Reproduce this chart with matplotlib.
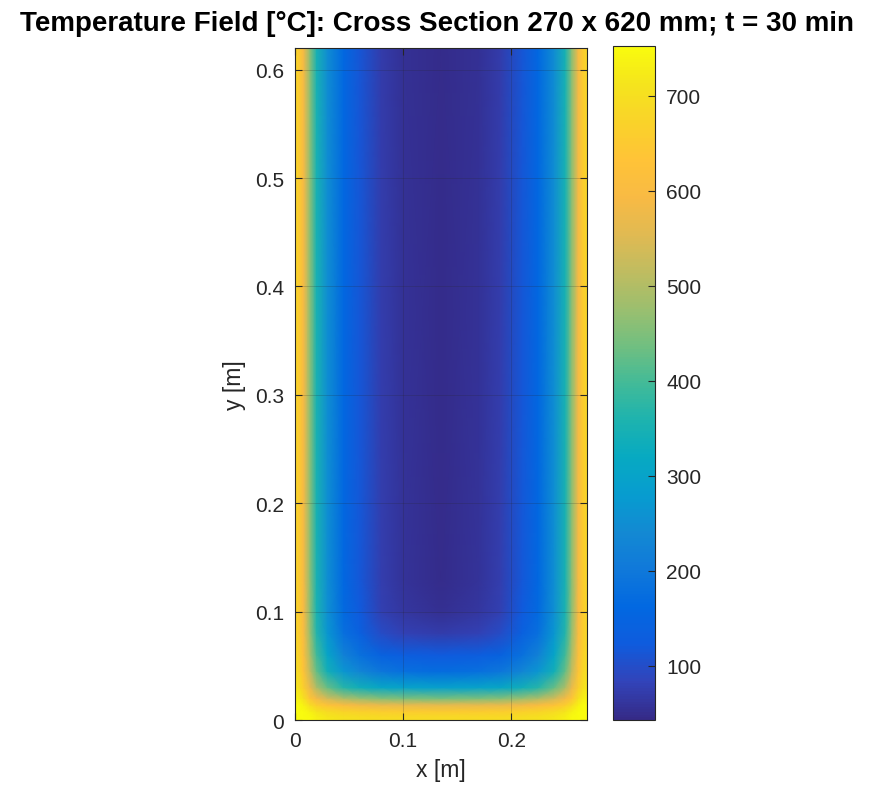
import matplotlib
matplotlib.use("Agg")
import matplotlib.pyplot as plt
import numpy as np
from matplotlib import font_manager
from matplotlib.colors import LinearSegmentedColormap

plt.rcParams['font.family'] = ['Liberation Sans', 'DejaVu Sans']

# Siatka węzłów (lewa połowa przekroju, prawa jest symetryczna) [m]
x_pol = [0, 0.004, 0.008, 0.014, 0.02, 0.03, 0.045, 0.06, 0.08, 0.1, 0.135]
y_wez = [0, 0.004, 0.008, 0.014, 0.02, 0.03, 0.045, 0.06, 0.08, 0.1, 0.13, 0.62]

# Temperatury [°C], wiersze = y_wez, kolumny = x_pol
temp_pol = [
    [783, 778, 770, 751, 735, 720, 707, 701, 694, 692, 691],
    [781, 776, 767, 746, 729, 713, 699, 691, 685, 682, 680],
    [776, 770, 758, 733, 711, 691, 673, 664, 656, 653, 651],
    [762, 752, 733, 692, 657, 626, 597, 583, 569, 564, 561],
    [743, 729, 700, 638, 586, 538, 496, 474, 454, 446, 441],
    [719, 699, 659, 571, 497, 429, 369, 339, 310, 299, 292],
    [700, 675, 625, 517, 426, 342, 267, 230, 194, 181, 173],
    [692, 665, 611, 494, 395, 305, 223, 183, 144, 130, 121],
    [684, 655, 597, 471, 365, 268, 181, 138, 96, 80, 71],
    [681, 651, 592, 463, 354, 255, 166, 121, 79, 63, 53],
    [680, 650, 591, 461, 351, 252, 162, 117, 74, 58, 48],
    [680, 650, 590, 460, 350, 250, 160, 115, 72, 56, 46],
]

cb_ticks = [100, 200, 300, 400, 500, 600, 700]
x_ticks = [0, 0.1, 0.2]
y_ticks = [0, 0.1, 0.2, 0.3, 0.4, 0.5, 0.6]

# Paleta parula (MATLAB)
parula_pkt = [
    (0.2081, 0.1663, 0.5292), (0.1959, 0.2645, 0.7279), (0.0591, 0.3598, 0.8683),
    (0.0060, 0.4086, 0.8828), (0.0629, 0.4737, 0.8554), (0.0749, 0.5375, 0.8263),
    (0.0265, 0.6137, 0.8135), (0.0267, 0.6642, 0.7607), (0.1133, 0.7015, 0.6859),
    (0.2586, 0.7317, 0.5954), (0.4420, 0.7481, 0.5033), (0.6099, 0.7473, 0.4337),
    (0.7525, 0.7384, 0.3768), (0.8824, 0.7274, 0.3217), (0.9739, 0.7314, 0.2666),
    (0.9990, 0.7653, 0.2164), (0.9789, 0.8271, 0.1633), (0.9589, 0.8949, 0.1132),
    (0.9763, 0.9831, 0.0538),
]
parula = LinearSegmentedColormap.from_list("parula", parula_pkt, N=256)

# Pogrubiona czcionka Liberation Sans (bez wersji Narrow)
bold_path = None
for f in font_manager.fontManager.ttflist:
    if f.name == 'Liberation Sans' and f.weight in (700, 'bold') and f.style == 'normal' \
            and 'Narrow' not in f.fname:
        bold_path = f.fname
        break
if bold_path:
    title_font = font_manager.FontProperties(fname=bold_path, size=20)
else:
    title_font = font_manager.FontProperties(family='DejaVu Sans', weight='bold', size=17)

# Pełna siatka (odbicie lustrzane względem osi przekroju)
x_wez = x_pol + [0.27 - v for v in reversed(x_pol[:-1])]
temp = np.array([wiersz + wiersz[-2::-1] for wiersz in temp_pol], dtype=float)
X, Y = np.meshgrid(x_wez, y_wez)

szary = (0.15, 0.15, 0.15)
fig = plt.figure(figsize=(8.74, 8.04), dpi=100)
ax = fig.add_axes([0.3375, 0.1032, 0.334, 0.8358])
cax = fig.add_axes([0.7014, 0.1032, 0.048, 0.838])

mesh = ax.pcolormesh(X, Y, temp, shading='gouraud', cmap=parula, vmin=43, vmax=752)
ax.set_xlim(0, 0.27)
ax.set_ylim(0, 0.62)
ax.set_xticks(x_ticks)
ax.set_xticklabels(["0", "0.1", "0.2"])
ax.set_yticks(y_ticks)
ax.set_yticklabels(["0", "0.1", "0.2", "0.3", "0.4", "0.5", "0.6"])
ax.grid(True, color=szary, alpha=0.2, linewidth=0.7)
ax.set_axisbelow(False)
ax.tick_params(direction='in', top=True, right=True, length=5, width=0.8,
               labelsize=15, colors=szary, pad=8)
for s in ax.spines.values():
    s.set_color(szary)
    s.set_linewidth(0.8)
ax.set_xlabel("x [m]", fontsize=16.5, color=szary, labelpad=6)
ax.set_ylabel("y [m]", fontsize=16.5, color=szary, labelpad=6)

cb = fig.colorbar(mesh, cax=cax)
cb.set_ticks(cb_ticks)
cb.ax.tick_params(direction='in', length=5, width=0.8, labelsize=15,
                  colors=szary, pad=8)
cb.outline.set_edgecolor(szary)
cb.outline.set_linewidth(0.8)

fig.text(0.5, 0.970, "Temperature Field [°C]: Cross Section 270 x 620 mm; t = 30 min",
         ha='center', va='center', fontproperties=title_font)

fig.savefig("out.png", dpi=100)
plt.close(fig)
